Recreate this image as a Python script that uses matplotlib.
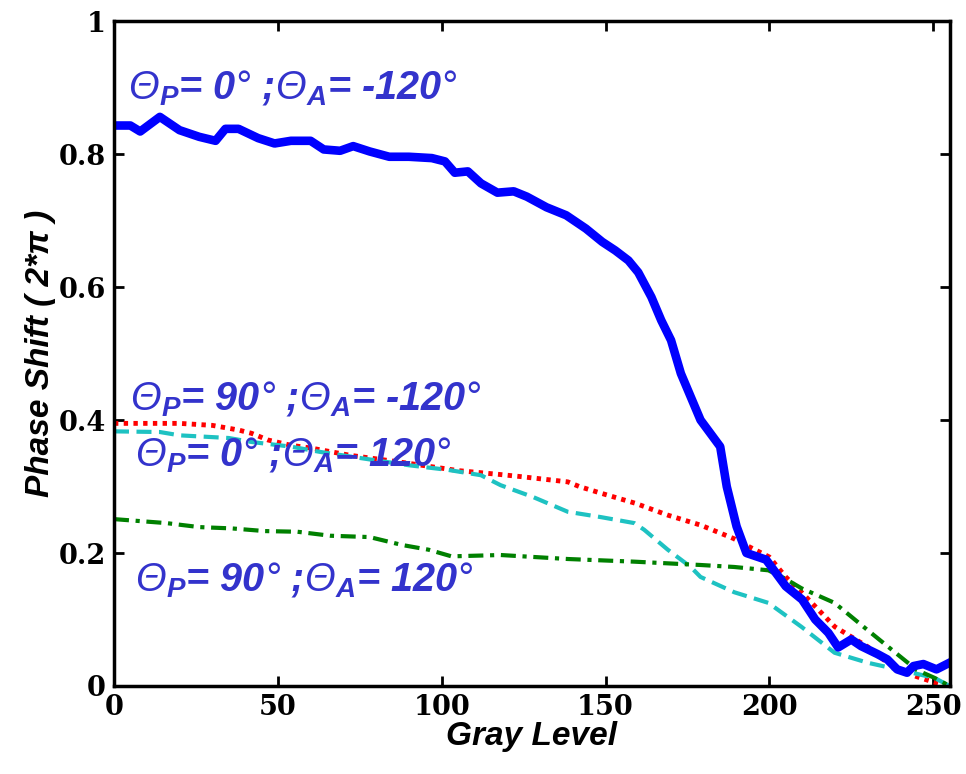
import matplotlib
matplotlib.use("Agg")
import matplotlib.pyplot as plt

plt.rcParams['mathtext.fontset'] = 'custom'
plt.rcParams['mathtext.rm'] = 'Liberation Sans:italic'
plt.rcParams['mathtext.it'] = 'Liberation Sans:bold:italic'
plt.rcParams['mathtext.bf'] = 'Liberation Sans:bold:italic'

# Phase shift (in units of 2*pi) versus gray level for four polarizer/analyzer settings
gray_p0_am120 = [0, 5, 8, 14, 20, 26, 31, 34, 38, 44, 49, 54, 60, 64, 69, 73, 78, 84, 90, 97,
                 101, 104, 108, 112, 117, 122, 126, 132, 138, 144, 149, 153, 157, 160, 164,
                 167, 170, 173, 176, 179, 182, 185, 187, 190, 193, 196, 199, 202, 205, 210,
                 214, 218, 221, 225, 228, 233, 236, 239, 242, 244, 247, 251, 255]
phase_p0_am120 = [0.843, 0.843, 0.834, 0.856, 0.836, 0.826, 0.820, 0.838, 0.838, 0.824, 0.816,
                  0.820, 0.820, 0.807, 0.805, 0.812, 0.804, 0.796, 0.796, 0.794,
                  0.789, 0.772, 0.774, 0.756, 0.742, 0.744, 0.736, 0.720, 0.708, 0.688,
                  0.668, 0.655, 0.640, 0.622, 0.585, 0.550, 0.520, 0.470, 0.435, 0.400,
                  0.380, 0.360, 0.300, 0.240, 0.200, 0.195, 0.190, 0.170, 0.150, 0.130,
                  0.100, 0.080, 0.058, 0.070, 0.060, 0.048, 0.040, 0.025, 0.020, 0.030,
                  0.033, 0.025, 0.035]

gray_p90_am120 = [0, 20, 30, 38, 42, 47, 54, 60, 72, 87, 105, 118, 124, 138.5, 142, 148.6,
                  159, 169, 179, 189, 194, 200, 205, 210, 220, 230, 235, 240, 245, 250, 255]
phase_p90_am120 = [0.395, 0.395, 0.392, 0.385, 0.380, 0.370, 0.362, 0.358, 0.347, 0.337,
                   0.324, 0.318, 0.315, 0.307, 0.300, 0.290, 0.275, 0.257, 0.242, 0.222,
                   0.209, 0.194, 0.164, 0.140, 0.089, 0.059, 0.039, 0.024, 0.014, 0.006, 0.0]

gray_p0_a120 = [0, 14, 20, 35, 42, 54, 63, 75, 90, 102, 112, 118, 128, 138.5, 148.6, 158.8,
                161.8, 169, 176, 179, 189.3, 199.7, 209.8, 219.9, 230, 240, 250.5, 255]
phase_p0_a120 = [0.383, 0.382, 0.377, 0.373, 0.367, 0.360, 0.352, 0.343, 0.332, 0.325,
                 0.317, 0.302, 0.284, 0.262, 0.254, 0.245, 0.235, 0.205, 0.179, 0.164,
                 0.141, 0.125, 0.089, 0.050, 0.035, 0.024, 0.012, 0.0]

gray_p90_a120 = [0, 16, 26, 36, 46, 56, 66, 78, 88, 96, 103, 118, 138.5, 148.6, 158.8,
                 179, 189.3, 199.7, 204.6, 209.8, 219.9, 230, 240, 245, 250.5, 255]
phase_p90_a120 = [0.251, 0.245, 0.239, 0.237, 0.233, 0.232, 0.226, 0.224, 0.212, 0.205,
                  0.195, 0.197, 0.191, 0.189, 0.187, 0.182, 0.179, 0.174, 0.162, 0.147,
                  0.125, 0.084, 0.044, 0.024, 0.012, 0.0]

deg = r"$\mathrm{°}$"
labels = [r"$\Theta_P$= 0" + deg + r" ;$\Theta_A$= -120" + deg,
          r"$\Theta_P$= 90" + deg + r" ;$\Theta_A$= -120" + deg,
          r"$\Theta_P$= 0" + deg + r" ;$\Theta_A$= 120" + deg,
          r"$\Theta_P$= 90" + deg + r" ;$\Theta_A$= 120" + deg]
label_x = [4.3, 5, 6.5, 6.5]
label_y = [0.882, 0.414, 0.330, 0.143]

fig = plt.figure(figsize=(9.66, 7.74), dpi=100)
ax = fig.add_axes([0.118, 0.1137, 0.865, 0.859])

ax.plot(gray_p90_am120, phase_p90_am120, color='#ff0000', linestyle=(0, (0.9, 1.1)),
        linewidth=3.5, dash_capstyle='butt')
ax.plot(gray_p0_a120, phase_p0_a120, color='#1ec2c2', linestyle=(0, (3.6, 1.8)),
        linewidth=3.0)
ax.plot(gray_p90_a120, phase_p90_a120, color='#008000', linestyle=(0, (3.6, 1.6, 1.0, 1.6)),
        linewidth=3.0)
ax.plot(gray_p0_am120, phase_p0_am120, color='#0000ff', linewidth=6.2, solid_joinstyle='round')

for txt, tx, ty in zip(labels, label_x, label_y):
    ax.text(tx, ty, txt, color='#3333cc', fontsize=28.5, fontweight='bold',
            fontstyle='italic', family='Liberation Sans', va='baseline', ha='left')

ax.set_xlim(0, 255)
ax.set_ylim(0, 1)
ax.set_xticks([0, 50, 100, 150, 200, 250])
ax.set_yticks([0, 0.2, 0.4, 0.6, 0.8, 1])
ax.set_yticklabels(['0', '0.2', '0.4', '0.6', '0.8', '1'])
for lab in ax.get_xticklabels() + ax.get_yticklabels():
    lab.set_family('DejaVu Serif')
    lab.set_fontweight('bold')
    lab.set_fontsize(19.5)
ax.tick_params(direction='in', length=7, width=2, pad=6, top=True, right=True)
for sp in ax.spines.values():
    sp.set_linewidth(2.5)

ax.set_xlabel('Gray Level', family='Liberation Sans', fontsize=24, fontweight='bold',
              fontstyle='italic', labelpad=0)
ax.set_ylabel('Phase Shift ( 2*π )', family='Liberation Sans', fontsize=24,
              fontweight='bold', fontstyle='italic', labelpad=2)

fig.savefig('out.png', dpi=100)
